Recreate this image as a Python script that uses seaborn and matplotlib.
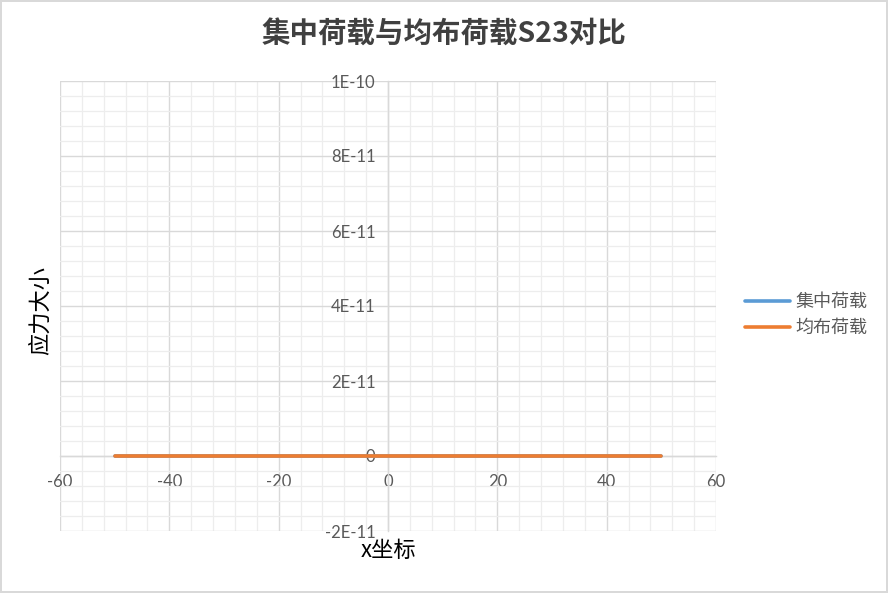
import matplotlib
matplotlib.use('Agg')
import matplotlib.pyplot as plt
from matplotlib.ticker import MultipleLocator
import seaborn as sns
import pandas as pd

# data: both series sit on zero from -50 to 50
x_coord = [-50, -40, -30, -20, -10, 0, 10, 20, 30, 40, 50]
s23_concentrated = [0, 0, 0, 0, 0, 0, 0, 0, 0, 0, 0]
s23_uniform = [0, 0, 0, 0, 0, 0, 0, 0, 0, 0, 0]
series_names = ['集中荷载', '均布荷载']
series_colors = ['#5B9BD5', '#ED7D31']
y_tick_values = [-2e-11, 0, 2e-11, 4e-11, 6e-11, 8e-11, 1e-10]
y_tick_labels = ['-2E-11', '0', '2E-11', '4E-11', '6E-11', '8E-11', '1E-10']

df = pd.DataFrame({
    'x': x_coord * 2,
    'y': s23_concentrated + s23_uniform,
    'series': [series_names[0]] * len(x_coord) + [series_names[1]] * len(x_coord),
})

sns.set_theme(style='white')
plt.rcParams['font.family'] = ['Noto Sans CJK SC', 'DejaVu Sans']
plt.rcParams['axes.unicode_minus'] = False

fig = plt.figure(figsize=(8.88, 5.93), dpi=100)
fig.patch.set_edgecolor('#D9D9D9')
fig.patch.set_linewidth(1.5)
ax = fig.add_axes([60 / 888, 62 / 593, 656 / 888, 450 / 593])

sns.lineplot(data=df, x='x', y='y', hue='series', palette=series_colors,
             linewidth=2.6, ax=ax, legend=False, zorder=3)

ax.set_xlim(-60, 60)
ax.set_ylim(-2e-11, 1e-10)
ax.xaxis.set_major_locator(MultipleLocator(20))
ax.xaxis.set_minor_locator(MultipleLocator(4))
ax.set_yticks(y_tick_values)
ax.set_yticklabels(y_tick_labels)
ax.yaxis.set_minor_locator(MultipleLocator(4e-12))

ax.grid(which='major', color='#D9D9D9', linewidth=1.0)
ax.grid(which='minor', color='#EDEDED', linewidth=0.9)
ax.set_axisbelow(True)

for side in ['top', 'right']:
    ax.spines[side].set_visible(False)
ax.spines['left'].set_position(('data', 0))
ax.spines['bottom'].set_position(('data', 0))
for side in ['left', 'bottom']:
    ax.spines[side].set_color('#D9D9D9')
    ax.spines[side].set_linewidth(1.0)
    ax.spines[side].set_zorder(1)

ax.tick_params(which='both', length=0, colors='#595959', labelsize=12,
               labelfontfamily='Lato')
ax.tick_params(axis='x', pad=13)
ax.tick_params(axis='y', pad=9)

ax.set_xlabel('x坐标', fontsize=16, color='#000000')
ax.set_ylabel('应力大小', fontsize=16, color='#000000')
ax.xaxis.set_label_coords(0.5, -0.018)
ax.yaxis.set_label_coords(-0.013, 0.49)

fig.text(0.5, 1 - 35 / 593, '集中荷载与均布荷载S23对比', ha='center', va='center',
         fontsize=20.5, fontweight='bold', color='#404040')

handles = [plt.Line2D([], [], color=c, linewidth=2.6) for c in series_colors]
fig.legend(handles, series_names, loc='center left',
           bbox_to_anchor=(745 / 888, 1 - 315 / 593), frameon=False,
           fontsize=13, labelcolor='#595959', handlelength=2.5,
           handletextpad=0.3, labelspacing=0.45, borderpad=0,
           borderaxespad=0)

fig.savefig('out.png', dpi=100)
